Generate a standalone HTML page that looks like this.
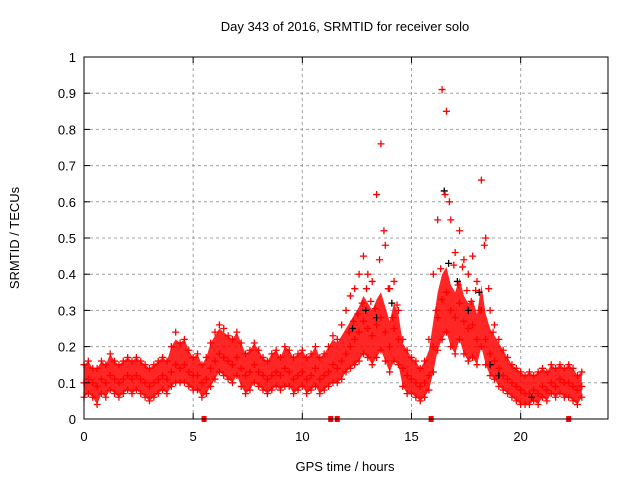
<!DOCTYPE html>
<html><head><meta charset="utf-8"><style>
body{margin:0;background:#fff}
svg{display:block;font-family:"Liberation Sans",sans-serif}
</style></head><body>
<svg id="chart" width="640" height="480">
<text x="345" y="31" text-anchor="middle" font-size="13">Day 343 of 2016, SRMTID for receiver solo</text>
<text x="345" y="471" text-anchor="middle" font-size="13">GPS time / hours</text>
<text transform="translate(19,238) rotate(-90)" text-anchor="middle" font-size="13">SRMTID / TECUs</text>
<g id="grid"></g><g id="band"></g><g id="marks"></g><g id="axes"></g>
</svg>
<script>
const xTicks=[0,5,10,15,20];
const yTicks=[0,0.1,0.2,0.3,0.4,0.5,0.6,0.7,0.8,0.9,1];
const yTickLabels=["0","0.1","0.2","0.3","0.4","0.5","0.6","0.7","0.8","0.9","1"];
const step=0.2;
const midVals=[.10,.11,.10,.09,.11,.10,.12,.11,.10,.11,.12,.11,.12,.11,.10,.09,.10,.11,.12,.11,.13,.15,.14,.15,.13,.12,.12,.10,.11,.14,.16,.18,.17,.16,.15,.17,.14,.12,.13,.15,.13,.12,.11,.12,.13,.12,.14,.13,.11,.12,.13,.11,.12,.14,.11,.12,.13,.15,.14,.16,.18,.20,.22,.24,.27,.25,.23,.26,.28,.24,.20,.25,.22,.14,.12,.11,.10,.09,.10,.12,.20,.28,.33,.35,.30,.28,.32,.27,.25,.26,.22,.30,.22,.18,.16,.14,.12,.11,.10,.09,.08,.07,.07,.08,.07,.09,.08,.10,.09,.11,.10,.10,.09,.08,.09];
const upperVals=[.15,.16,.14,.14,.16,.15,.18,.16,.15,.16,.17,.16,.17,.16,.15,.14,.15,.16,.17,.16,.20,.24,.21,.22,.19,.17,.18,.15,.17,.21,.24,.26,.25,.23,.22,.24,.21,.18,.19,.21,.19,.17,.16,.18,.19,.17,.20,.19,.17,.18,.19,.17,.18,.20,.17,.18,.20,.23,.22,.26,.30,.34,.36,.40,.45,.40,.38,.62,.76,.48,.36,.38,.30,.22,.19,.17,.16,.14,.16,.22,.40,.55,.91,.85,.55,.46,.52,.44,.40,.45,.38,.66,.50,.30,.26,.22,.19,.17,.15,.14,.13,.12,.13,.12,.13,.14,.13,.15,.14,.15,.14,.15,.14,.12,.13];
const lowerVals=[.06,.07,.06,.04,.07,.06,.08,.07,.06,.07,.08,.07,.08,.07,.06,.05,.06,.07,.08,.07,.09,.10,.10,.10,.09,.08,.08,.06,.07,.09,.11,.13,.12,.11,.10,.12,.09,.07,.08,.10,.09,.08,.07,.08,.09,.08,.09,.09,.07,.08,.09,.07,.08,.09,.07,.08,.09,.10,.10,.11,.13,.14,.15,.16,.18,.17,.15,.17,.19,.16,.13,.16,.15,.09,.07,.07,.06,.05,.06,.08,.13,.19,.22,.24,.20,.18,.22,.18,.16,.17,.15,.20,.15,.12,.11,.09,.08,.07,.06,.05,.04,.04,.04,.05,.04,.06,.05,.07,.06,.07,.06,.06,.05,.04,.06];
const blackTimes=[12.3,12.9,13.4,14.1,16.5,16.7,17.1,17.6,18.1,18.6,19.0,20.5];
const blackVals=[0.25,0.30,0.28,0.32,0.63,0.43,0.38,0.30,0.35,0.15,0.12,0.06];
const zeroTimes=[5.5,11.3,11.6,15.9,22.2];
const zeroVals=[0,0,0,0,0];
const X0=84,X1=608,Y0=419,Y1=57,XMAX=24;
const sx=v=>X0+v/XMAX*(X1-X0);
const sy=v=>Y0-v*(Y0-Y1);
const NS="http://www.w3.org/2000/svg";
function mk(tag,attrs,parent){const e=document.createElementNS(NS,tag);for(const k in attrs)e.setAttribute(k,attrs[k]);document.getElementById(parent).appendChild(e);return e;}
yTicks.forEach((v,i)=>{
 if(v>0&&v<1){const g=mk('line',{x1:X0,x2:X1,y1:sy(v),y2:sy(v),stroke:'#a0a0a0','stroke-dasharray':'3,3'},'grid');
 
 }
 const t=mk('text',{x:X0-8,y:sy(v)+5,'text-anchor':'end','font-size':13},'axes');t.textContent=yTickLabels[i];
 
 
 mk('line',{x1:X0,x2:X0+6,y1:sy(v),y2:sy(v),stroke:'#000'},'axes');
 mk('line',{x1:X1,x2:X1-6,y1:sy(v),y2:sy(v),stroke:'#000'},'axes');
});
xTicks.forEach(v=>{
 if(v>0){const g=mk('line',{x1:sx(v),x2:sx(v),y1:Y0,y2:Y1,stroke:'#a0a0a0','stroke-dasharray':'3,3'},'grid');
 
 }
 const t=mk('text',{x:sx(v),y:Y0+22,'text-anchor':'middle','font-size':13},'axes');t.textContent=String(v);
 
 
 mk('line',{x1:sx(v),x2:sx(v),y1:Y0,y2:Y0-6,stroke:'#000'},'axes');
 mk('line',{x1:sx(v),x2:sx(v),y1:Y1,y2:Y1+6,stroke:'#000'},'axes');
});
const fr=mk('rect',{x:X0,y:Y1,width:X1-X0,height:Y0-Y1,fill:'none',stroke:'#000'},'axes');


let pts=[];
midVals.forEach((v,i)=>pts.push(sx(i*step)+','+sy(Math.min(upperVals[i],midVals[i]+0.07))));
for(let i=midVals.length-1;i>=0;i--)pts.push(sx(i*step)+','+sy(lowerVals[i]));
const band=mk('polygon',{points:pts.join(' '),fill:'#ff0000','fill-opacity':0.85},'band');


function plus(x,y,color,name){
 const p=mk('path',{d:`M${x-3.5},${y}h7M${x},${y-3.5}v7`,stroke:color,'stroke-width':1.3,fill:'none'},'marks');
 
 
}
blackTimes.forEach((t,i)=>plus(sx(t),sy(blackVals[i]),'#000','black-point'));
[midVals,upperVals,lowerVals].forEach(arr=>arr.forEach((v,i)=>plus(sx(i*step),sy(v),'#ff0000','red-point')));
upperVals.forEach((v,i)=>{ if(v-midVals[i]>0.1) plus(sx(i*step)+3,sy((v+midVals[i])/2),'#ff0000','red-point'); });
zeroTimes.forEach((t,i)=>{
 const r=mk('rect',{x:sx(t)-2.5,y:sy(zeroVals[i])-3,width:5,height:6,fill:'#ff0000'},'marks');
 
 
});
</script>
</body></html>
